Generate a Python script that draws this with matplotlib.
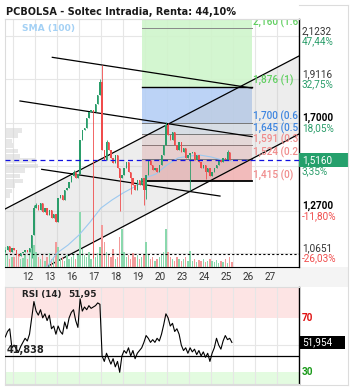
import matplotlib
matplotlib.use('Agg')
import matplotlib.pyplot as plt
import matplotlib.transforms as mtrans
from matplotlib.patches import Rectangle
from matplotlib.lines import Line2D
import numpy as np

plt.rcParams['font.family'] = ['Roboto', 'DejaVu Sans']

# ------------------------------------------------------------------ data
title = 'PCBOLSA - Soltec Intradia, Renta: 44,10%'
day_labels = ['12', '13', '16', '17', '18', '19', '20', '23', '24', '25', '26', '27']

# intraday closes (10 bars per session, first 4 bars belong to the previous session)
closes = [
    1.079, 1.098, 1.069, 1.089,
    1.079, 1.059, 1.050, 1.064, 1.069, 1.079, 1.069, 1.089, 1.152, 1.284,
    1.298, 1.274, 1.308, 1.264, 1.284, 1.250, 1.274, 1.235, 1.254, 1.215,
    1.332, 1.347, 1.323, 1.371, 1.381, 1.411, 1.440, 1.459, 1.430, 1.450,
    1.616, 1.664, 1.674, 1.723, 1.752, 1.762, 1.752, 1.791, 1.835, 1.899,
    1.567, 1.518, 1.606, 1.567, 1.528, 1.503, 1.542, 1.479, 1.430, 1.445,
    1.479, 1.508, 1.459, 1.430, 1.396, 1.371, 1.420, 1.396, 1.430, 1.371,
    1.445, 1.518, 1.494, 1.469, 1.479, 1.459, 1.494, 1.542, 1.591, 1.689,
    1.640, 1.616, 1.655, 1.591, 1.567, 1.606, 1.557, 1.577, 1.528, 1.542,
    1.550, 1.557, 1.518, 1.542, 1.508, 1.479, 1.494, 1.459, 1.479, 1.440,
    1.459, 1.479, 1.494, 1.518, 1.508, 1.528, 1.518, 1.557, 1.518, 1.516,
]
first_open = 1.070
high_wicks = {13: 1.30, 14: 1.31, 31: 1.468, 43: 1.912, 44: 1.982, 46: 1.615,
              73: 1.703, 74: 1.700, 101: 1.567}
low_wicks = {12: 1.04, 40: 1.04, 52: 1.27, 57: 1.35, 63: 1.30, 64: 1.33,
             84: 1.372, 91: 1.425}

volumes = [
    20, 12, 8, 10,
    10, 14, 12, 8, 9, 12, 8, 15, 30, 22,
    15, 10, 8, 12, 6, 10, 14, 8, 10, 25,
    20, 8, 10, 6, 12, 8, 10, 14, 8, 12,
    55, 18, 12, 10, 15, 8, 12, 10, 14, 20,
    42, 25, 15, 12, 10, 18, 8, 10, 30, 38,
    15, 10, 12, 8, 14, 10, 12, 8, 10, 12,
    25, 12, 8, 10, 6, 8, 10, 12, 15, 38,
    15, 10, 8, 6, 10, 8, 6, 8, 10, 6,
    16, 6, 8, 5, 7, 6, 8, 5, 6, 8,
    6, 5, 7, 4, 6, 5, 8, 4, 10, 5,
]
volume_avg = 13

rsi = [
    56, 60, 62, 48,
    50, 47, 45, 49, 52, 55, 53, 58, 70, 82,
    75, 72, 76, 70, 73, 68, 72, 62, 64, 58,
    64, 60, 58, 67, 62, 70, 74, 76, 68, 63,
    84, 75, 78, 76, 79, 77, 78, 79, 81, 80,
    42, 38, 44, 40, 36, 40, 34, 38, 30, 42,
    46, 44, 48, 42, 46, 40, 44, 46, 48, 52,
    57, 55, 52, 54, 52, 55, 53, 58, 65, 73,
    70, 64, 66, 60, 62, 58, 50, 46, 48, 44,
    48, 45, 47, 43, 46, 42, 45, 41, 44, 38,
    44, 48, 55, 50, 47, 53, 57, 54, 55, 51.954,
]
rsi_ref = 41.838
rsi_ref_label = '41,838'
rsi_last_label = '51,954'

# SMA(100) read every half session
sma_x = [1.5, 2.0, 2.5, 3.0, 3.5, 4.0, 4.5, 5.0, 5.5, 6.0, 6.5, 7.0, 7.5, 8.0, 8.5, 9.0, 9.5, 9.95]
sma_y = [0.991, 1.064, 1.103, 1.152, 1.215, 1.284, 1.323, 1.357, 1.386, 1.430,
         1.450, 1.494, 1.528, 1.537, 1.542, 1.533, 1.518, 1.513]

# volume profile (price bins and volume)
vp_prices = [1.662, 1.638, 1.613, 1.589, 1.564, 1.540, 1.516, 1.491, 1.467, 1.442, 1.418, 1.394, 1.369, 1.345]
vp_volumes = [17, 13, 7, 8, 13, 15, 30, 33, 20, 15, 18, 10, 7, 5]

# right axis (the 1,4882 price text is hidden behind the last-price box)
grid_prices = [2.1232, 1.9116, 1.7000, 1.4882, 1.2700, 1.0651]
grid_price_labels = ['2,1232', '1,9116', '1,7000', '', '1,2700', '1,0651']
grid_pct_labels = ['47,44%', '32,75%', '18,05%', '3,35%', '-11,80%', '-26,03%']
grid_bold = [False, False, True, False, True, False]
last_price = 1.516
last_price_label = '1,5160'

# fibonacci (labels as visible, cut by the price axis)
fib_levels = [1.415, 1.524, 1.591, 1.645, 1.700, 1.876, 2.160]
fib_labels = ['1,415 (0)', '1,524 (0.2', '1,591 (0.3', '1,645 (0.5',
              '1,700 (0.6', '1,876 (1)', '2,160 (1.6']
fib_x = [5.864, 10.864]

# trend lines: (x0, x1), (y0, y1)
rise_upper = ([-0.364, 13.0], [1.2788, 2.0255])
rise_lower = ([-0.364, 13.0], [0.8901, 1.6448])
desc_lines = [([1.786, 10.864], [2.019, 1.869]),
              ([0.318, 10.864], [1.806, 1.632]),
              ([1.305, 9.409], [1.4725, 1.3422])]

# ------------------------------------------------------------------ layout
W, H, DPI = 353, 390, 100
fig = plt.figure(figsize=(W / DPI, H / DPI), dpi=DPI)
fig.patch.set_facecolor('white')

def frect(x0, y0, x1, y1):
    return [x0 / W, 1 - y1 / H, (x1 - x0) / W, (y1 - y0) / H]

ax = fig.add_axes(frect(5, 19, 299, 267))
rax = fig.add_axes(frect(5, 287, 299, 384))

XMIN, XMAX = -0.364, 13.0
YMIN, YMAX = 0.996, 2.206
RMIN, RMAX = 21.4, 92.7

# label band and outer frame
fig.add_artist(Rectangle((5 / W, 1 - 287 / H), 343 / W, 20 / H, transform=fig.transFigure,
                         facecolor='#f4f4f4', edgecolor='none', zorder=0))
for (x0, y0, x1, y1) in [(299, 5, 348, 5), (348, 5, 348, 385), (5, 385, 348, 385), (5, 18.5, 299, 18.5)]:
    fig.add_artist(Line2D([x0 / W, x1 / W], [1 - y0 / H, 1 - y1 / H], transform=fig.transFigure,
                          color='#dcdcdc', lw=0.8))

GREEN = '#2a9d6a'
RED = '#f04c4c'
FS = 7.2

n = len(closes)
xs = -0.35 + 0.1 * np.arange(n)
opens = [first_open] + closes[:-1]

for a in (ax, rax):
    a.set_xlim(XMIN, XMAX)
    a.set_xticks([])
    a.set_yticks([])
    for i in range(13):
        a.axvline(i, color='#e6e6e6', lw=0.8, zorder=0.5)
    for s in ('left', 'top'):
        a.spines[s].set_color('#dcdcdc')
        a.spines[s].set_linewidth(0.8)
    a.spines['right'].set_color('black')
    a.spines['right'].set_linewidth(1.0)

ax.spines['bottom'].set_color('black')
rax.spines['bottom'].set_color('#dcdcdc')
ax.set_ylim(YMIN, YMAX)
rax.set_ylim(RMIN, RMAX)

for gp in grid_prices:
    ax.axhline(gp, color='#e6e6e6', lw=0.8, zorder=0.5)

# fib zones
zone_cols = ['#f1b4b4', '#f5d1d1', '#f1dfdf', '#dde7f2', '#b5cff5', '#cff5cb']
fw = fib_x[1] - fib_x[0]
for i, c in enumerate(zone_cols):
    ax.add_patch(Rectangle((fib_x[0], fib_levels[i]), fw, fib_levels[i + 1] - fib_levels[i],
                           facecolor=c, edgecolor='none', alpha=0.9, zorder=1))
ax.add_patch(Rectangle((fib_x[0], fib_levels[-1]), fw, YMAX - fib_levels[-1],
                       facecolor=zone_cols[-1], edgecolor='none', alpha=0.9, zorder=1))
fib_line_cols = ['black', '#777777', '#8a7777', '#777777', '#777777', 'black', '#888888']
fib_line_w = [1.3, 0.7, 0.7, 0.7, 0.7, 1.0, 0.7]
fib_text_cols = ['#f08c8c', '#f08c8c', '#f08c8c', '#3f86e0', '#3f86e0', '#5fcf5f', '#5fcf5f']
for lv, lc, lw, lab, tc in zip(fib_levels, fib_line_cols, fib_line_w, fib_labels, fib_text_cols):
    ax.plot(fib_x, [lv, lv], color=lc, lw=lw, zorder=3)
    t = ax.annotate(lab, xy=(fib_x[1], lv), xytext=(1, 6), textcoords='offset pixels',
                    ha='left', va='center', color=tc, fontsize=FS, fontweight='medium',
                    annotation_clip=False, zorder=6)
    t.set_clip_on(True)
    t.set_clip_box(ax.bbox)

# channel fill and trend lines
ax.fill_between(np.array(rise_upper[0]), np.array(rise_lower[1]), np.array(rise_upper[1]),
                color='#c4c4c4', alpha=0.3, lw=0, zorder=1.5)
ax.plot(*rise_upper, color='black', lw=0.9, zorder=3)
ax.plot(*rise_lower, color='black', lw=0.9, zorder=3)
for dl in desc_lines:
    ax.plot(*dl, color='black', lw=0.9, zorder=3)

# volume profile
bt = mtrans.blended_transform_factory(ax.transAxes, ax.transData)
vmax = max(vp_volumes)
bin_h = 0.0244
for p, v in zip(vp_prices, vp_volumes):
    ax.add_patch(Rectangle((0, p - bin_h / 2), 0.112 * v / vmax, bin_h * 0.9, transform=bt,
                           facecolor='#d4d4d4', edgecolor='none', alpha=0.55, zorder=1.2))

# volume
vax = ax.twinx()
vax.set_ylim(0, 248)
vax.set_xlim(XMIN, XMAX)
vax.axis('off')
vcols = ['#8ad8ad' if c >= o else '#f39a9a' for o, c in zip(opens, closes)]
vax.bar(xs, volumes, width=0.07, color=vcols, zorder=2, lw=0)
vax.axhline(volume_avg, color='black', lw=0.8, ls=(0, (2, 2)), zorder=3)

# candles
cax = ax.twinx()
cax.set_ylim(YMIN, YMAX)
cax.set_xlim(XMIN, XMAX)
cax.axis('off')
for i, (x, o, c) in enumerate(zip(xs, opens, closes)):
    col = GREEN if c >= o else RED
    hi = high_wicks.get(i, max(o, c))
    lo = low_wicks.get(i, min(o, c))
    cax.vlines(x, lo, hi, color=col, lw=0.6, zorder=4)
    body = max(abs(c - o), 0.004)
    cax.add_patch(Rectangle((x - 0.033, min(o, c)), 0.066, body, facecolor=col, edgecolor='none', zorder=4))
cax.plot(sma_x, sma_y, color='#9cc9f0', lw=0.8, zorder=3.5)
cax.axhline(last_price, color='#1010e0', lw=0.9, ls=(0, (4, 3)), zorder=5)

# SMA label and title
ax.text(17 / 294, 1 - 9 / 248, 'SMA (100)', transform=ax.transAxes, color='#a4d1f5',
        fontsize=6.6, fontweight='bold', va='center', ha='left', family='DejaVu Sans')
fig.text(5.5 / W, 1 - 12 / H, title, fontsize=7.0, fontweight='bold', color='#1a1a1a',
         va='center', ha='left', family='DejaVu Sans')

# right axis labels
for gp, pl, pc, b in zip(grid_prices, grid_price_labels, grid_pct_labels, grid_bold):
    if pl:
        ax.annotate(pl, xy=(1, gp), xycoords=('axes fraction', 'data'), xytext=(3, 5),
                    textcoords='offset pixels', ha='left', va='center', fontsize=FS,
                    color='black' if b else '#333333', fontweight='bold' if b else 'normal',
                    annotation_clip=False, zorder=7)
    ax.annotate(pc, xy=(1, gp), xycoords=('axes fraction', 'data'), xytext=(3, -5),
                textcoords='offset pixels', ha='left', va='center', fontsize=FS,
                color=RED if pc.startswith('-') else GREEN, annotation_clip=False, zorder=7)
ax.add_patch(Rectangle((1.0, last_price - 7 / 204.9), 50 / 294, 14 / 204.9, transform=bt,
                       facecolor='#25a06c', edgecolor='none', clip_on=False, zorder=8))
ax.annotate(last_price_label, xy=(1, last_price), xycoords=('axes fraction', 'data'),
            xytext=(3, 0), textcoords='offset pixels', ha='left', va='center', fontsize=FS,
            color='white', annotation_clip=False, zorder=9)

# x labels
for i, lab in enumerate(day_labels):
    ax.annotate(lab, xy=(i + 0.68, 0), xycoords=('data', 'axes fraction'), xytext=(0, -10),
                textcoords='offset pixels', ha='center', va='center', fontsize=FS,
                color='#333333', annotation_clip=False)

# RSI panel
rax.axhspan(70, RMAX, color='#fde4e4', zorder=0.2, lw=0)
rax.axhspan(RMIN, 30, color='#e3fbe0', zorder=0.2, lw=0)
rax.axhline(50, color='#e6e6e6', lw=0.8, zorder=0.5)
rax.plot(xs, rsi, color='black', lw=0.8, zorder=3)
rax.axhline(rsi_ref, color='black', lw=0.9, zorder=3)
rbt = mtrans.blended_transform_factory(rax.transAxes, rax.transData)
rax.text(2 / 294, rsi_ref + 4.5, rsi_ref_label, fontsize=7.0, fontweight='bold', color='#222222',
         va='center', ha='left', transform=rbt, zorder=4, family='DejaVu Sans')
rax.text(17 / 294, 1 - 8 / 97, 'RSI (14)', transform=rax.transAxes, fontsize=6.3,
         fontweight='bold', color='#222222', va='center', ha='left', family='DejaVu Sans')
rax.text(63 / 294, 1 - 8 / 97, '51,95', transform=rax.transAxes, fontsize=6.5,
         fontweight='bold', color='#222222', va='center', ha='left', family='DejaVu Sans')
rax.text(1 + 3 / 294, 70, '70', transform=rbt, color='#e01010', fontsize=FS, fontweight='bold',
         va='center', ha='left')
rax.text(1 + 3 / 294, 30, '30', transform=rbt, color='#1a9a1a', fontsize=FS, fontweight='bold',
         va='center', ha='left')
rax.add_patch(Rectangle((1.0, rsi[-1] - 6.5 / 1.35), 46 / 294, 13 / 1.35, transform=rbt,
                        facecolor='black', edgecolor='none', clip_on=False, zorder=8))
rax.text(1 + 3 / 294, rsi[-1], rsi_last_label, transform=rbt, color='white', fontsize=FS,
         va='center', ha='left', zorder=9)

fig.savefig('out.png', dpi=DPI)
